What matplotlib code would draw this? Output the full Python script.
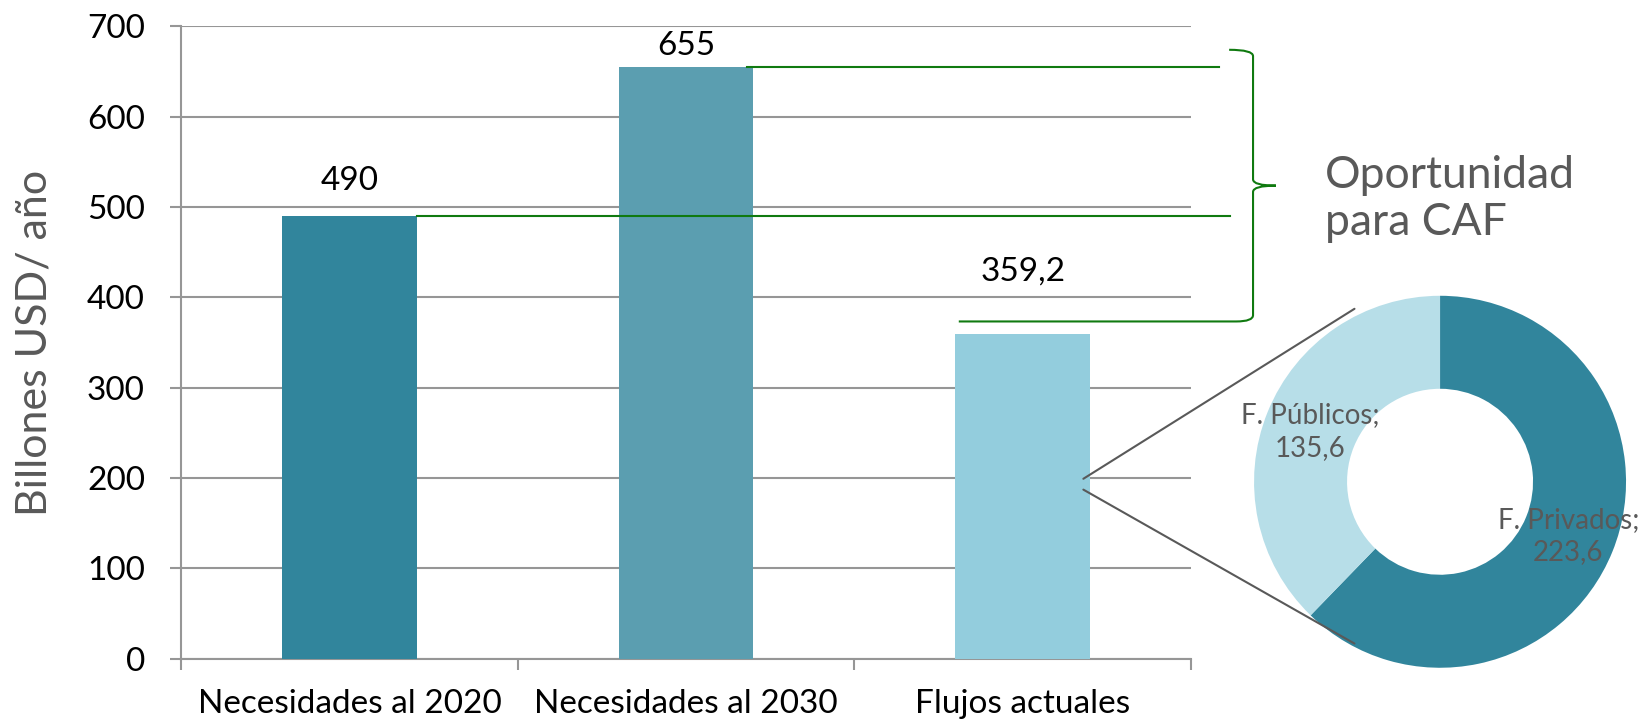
import matplotlib.pyplot as plt
from matplotlib.patches import ConnectionPatch, PathPatch
from matplotlib.path import Path

plt.rcParams['font.family'] = ['Lato', 'DejaVu Sans']

# data
categories = ["Necesidades al 2020", "Necesidades al 2030", "Flujos actuales"]
values = [490, 655, 359.2]
value_labels = ["490", "655", "359,2"]
bar_colors = ["#31859C", "#5B9EB0", "#93CDDD"]

donut_names = ["F. Privados", "F. Públicos"]
donut_values = [223.6, 135.6]
donut_text = ["223,6", "135,6"]
donut_colors = ["#31859C", "#B7DEE8"]

grid_c = "#969696"
green = "#107A10"
txt_gray = "#595959"

fig = plt.figure(figsize=(16.52, 7.23), dpi=100)
ax = fig.add_axes([0.1096, 0.0892, 0.6114, 0.8744])

x = range(len(categories))
ax.bar(x, values, width=0.4, color=bar_colors, zorder=3)
ax.set_xlim(-0.5, 2.5)
ax.set_ylim(0, 700)
ax.set_yticks(range(0, 701, 100))
ax.yaxis.grid(True, color=grid_c, linewidth=1.5, zorder=0)
ax.tick_params(axis='y', length=8, width=1.5, color=grid_c, pad=18, labelsize=24)

# tick marks between categories, labels at centers
ax.set_xticks([-0.5, 0.5, 1.5, 2.5])
ax.set_xticklabels([])
ax.set_xticks(list(x), minor=True)
ax.set_xticklabels(categories, minor=True, fontsize=24)
ax.tick_params(axis='x', which='major', length=8, width=1.5, color=grid_c)
ax.tick_params(axis='x', which='minor', length=0, pad=22)

for s in ['top', 'right']:
    ax.spines[s].set_visible(False)
for s in ['left', 'bottom']:
    ax.spines[s].set_color(grid_c)
    ax.spines[s].set_linewidth(1.5)

# value labels (offsets in points as in the original)
label_offsets = [25, 15, 45]
for i, v in enumerate(values):
    ax.annotate(value_labels[i], (i, v), xytext=(0, label_offsets[i]),
                textcoords='offset points', ha='center', va='center',
                fontsize=24, color='black')

# green reference lines
ax.plot([0.2, 2.616], [values[0], values[0]], color=green, lw=1.5, clip_on=False, zorder=4)
ax.plot([1.18, 2.583], [values[1], values[1]], color=green, lw=1.5, clip_on=False, zorder=4)

# brace
top = values[1] + 19
bot = values[2] + 14
mid = (top + bot) / 2
xv, xl, xt = 2.684, 2.613, 2.752
c = 0.05
k = 7
verts = [(xl, top), (xv, top), (xv, top - k),
         (xv, mid + k), (xv, mid), (xt, mid),
         (xv, mid), (xv, mid - k),
         (xv, bot + k), (xv, bot), (xv - c, bot),
         (1.81, bot)]
codes = [Path.MOVETO, Path.CURVE3, Path.CURVE3,
         Path.LINETO, Path.CURVE3, Path.CURVE3,
         Path.CURVE3, Path.CURVE3,
         Path.LINETO, Path.CURVE3, Path.CURVE3,
         Path.LINETO]
ax.add_patch(PathPatch(Path(verts, codes), fill=False, edgecolor=green,
                       lw=1.5, clip_on=False, zorder=4))

fig.text(1325 / 1652, 0.7248, "Oportunidad\npara CAF", fontsize=32,
         color=txt_gray, ha='left', va='center', linespacing=1.2)

fig.text(35 / 1652, 0.5256, "Billones USD/ año", rotation=90, fontsize=31,
         color=txt_gray, ha='center', va='center')

# donut
pax = fig.add_axes([0.7591, 0.0764, 0.2252, 0.5145])
pax.pie(donut_values, colors=donut_colors, startangle=90, counterclock=False,
        radius=1, wedgeprops=dict(width=0.5, edgecolor='none'))
pax.set_xlim(-1, 1)
pax.set_ylim(-1, 1)
pax.axis('off')
pax.text(0.69, -0.29, f"{donut_names[0]};\n{donut_text[0]}", fontsize=20,
         color=txt_gray, ha='center', va='center', linespacing=1.3)
pax.text(-0.70, 0.27, f"{donut_names[1]};\n{donut_text[1]}", fontsize=20,
         color=txt_gray, ha='center', va='center', linespacing=1.3)

# connector lines from the third bar to the donut
for ys, ye in [(199, (-0.46, 0.93)), (187, (-0.46, -0.87))]:
    con = ConnectionPatch(xyA=(2.18, ys), coordsA=ax.transData,
                          xyB=ye, coordsB=pax.transData,
                          color=txt_gray, lw=1.5)
    fig.add_artist(con)

fig.savefig("out.png", dpi=100)
